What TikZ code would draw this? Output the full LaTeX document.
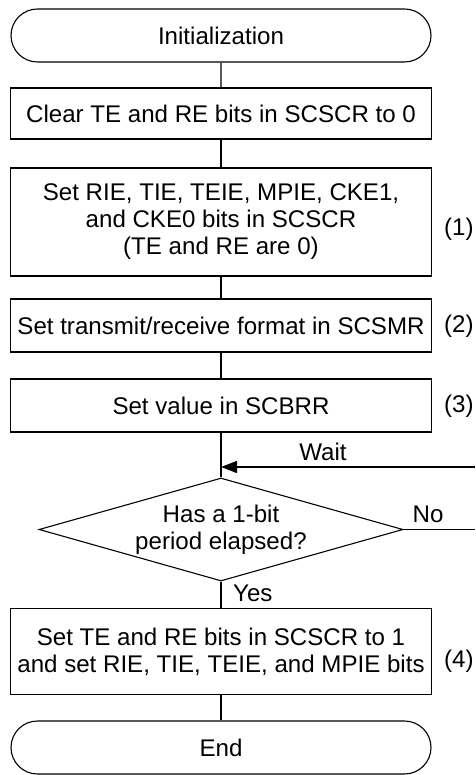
\documentclass[tikz,border=0pt]{standalone}
\usepackage{fontspec}
\setmainfont{Liberation Sans}
\usetikzlibrary{shapes.geometric,shapes.misc,arrows.meta}
\begin{document}
\begin{tikzpicture}[x=1pt,y=-1pt,
  every node/.style={font=\fontsize{24.1}{27}\selectfont},
  line/.style={line width=1.1pt, draw=black},
  procbox/.style={draw, line width=1.1pt, minimum width=421pt, align=center, inner sep=0pt},
  term/.style={rounded rectangle, draw, line width=1.1pt, minimum width=420pt, minimum height=53pt, inner sep=0pt},
  decis/.style={diamond, draw, line width=1.1pt, minimum width=364pt, minimum height=103pt, inner sep=0pt, shape aspect=3.5, align=center},
  tag/.style={anchor=west, inner sep=0pt},
  lbl/.style={inner sep=0pt}]
\useasboundingbox (0,0) rectangle (475,775);
\node[term] (init) at (221,35.5) {Initialization};
\node[procbox, minimum height=51pt] (b1) at (221,113.5) {Clear TE and RE bits in SCSCR to 0};
\node[procbox, minimum height=108pt] (b2) at (221,222) {Set RIE, TIE, TEIE, MPIE, CKE1,\\and CKE0 bits in SCSCR\\(TE and RE are 0)};
\node[procbox, minimum height=53pt] (b3) at (221,325.5) {Set transmit/receive format in SCSMR};
\node[procbox, minimum height=53pt] (b4) at (221,405.5) {Set value in SCBRR};
\node[decis] (dia) at (221,529.5) {Has a 1-bit\\period elapsed?};
\node[procbox, minimum height=86pt] (b5) at (221,651.5) {Set TE and RE bits in SCSCR to 1\\and set RIE, TIE, TEIE, and MPIE bits};
\node[term] (fin) at (221,747.5) {End};

\coordinate (join) at (221,467);
\coordinate (waitR) at (475,467);
\coordinate (noR) at (475,529.5);

\draw[line] (init) -- (b1);
\draw[line] (b1) -- (b2);
\draw[line] (b2) -- (b3);
\draw[line] (b3) -- (b4);
\draw[line] (b4) -- (dia);
\draw[line] (dia) -- (b5);
\draw[line] (b5) -- (fin);
\draw[line] (dia.east) -- (noR);
\draw[line, -{Triangle[length=16pt,width=12pt]}] (waitR) -- (join);

\node[lbl] (wait) at (323,452) {Wait};
\node[lbl] (no) at (428,514) {No};
\node[tag] (yes) at (233,593) {Yes};
\node[tag] (t1) at (444,229) {(1)};
\node[tag] (t2) at (444,326) {(2)};
\node[tag] (t3) at (444,406) {(3)};
\node[tag] (t4) at (444,661) {(4)};
\end{tikzpicture}
\end{document}
